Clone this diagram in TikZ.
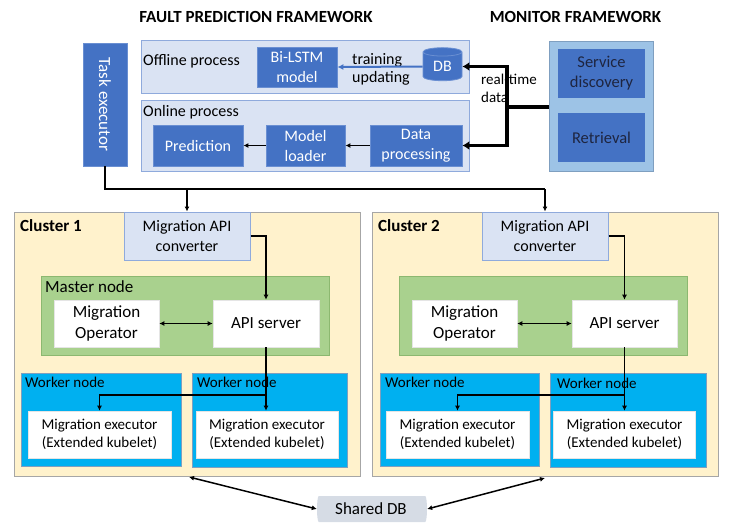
\documentclass[tikz,border=0pt]{standalone}
\usepackage{fontspec}
\setmainfont{Carlito}
\usetikzlibrary{shapes.geometric,arrows.meta}
\definecolor{dblue}{HTML}{4472C4}
\definecolor{dblueb}{HTML}{6A8FD2}
\definecolor{lblue}{HTML}{DAE3F3}
\definecolor{lblueb}{HTML}{8FAADC}
\definecolor{monfill}{HTML}{9DC3E6}
\definecolor{monb}{HTML}{7F9FC0}
\definecolor{clfill}{HTML}{FFF2CC}
\definecolor{clb}{HTML}{A6A6A6}
\definecolor{mfill}{HTML}{A9D18E}
\definecolor{mb}{HTML}{8CB870}
\definecolor{wfill}{HTML}{00B0F0}
\definecolor{wb}{HTML}{7F9FBF}
\definecolor{sdbfill}{HTML}{D6DCE5}
\definecolor{darktext}{HTML}{1E2540}
\begin{document}
\begin{tikzpicture}[x=1pt,y=-1pt,
  sz/.style 2 args={minimum width=#1pt,minimum height=#2pt},
  box/.style={rectangle,inner sep=0pt,align=center},
  f15/.style={font=\fontsize{15}{18}\selectfont},
  f16/.style={font=\fontsize{16}{20}\selectfont},
  f17/.style={font=\fontsize{17}{21}\selectfont},
  bluebox/.style={box,fill=dblue,draw=dblueb,line width=0.8pt,text=white},
  procbox/.style={box,fill=lblue,draw=lblueb,line width=1pt},
  clbox/.style={box,fill=clfill,draw=clb,line width=1pt},
  mbox/.style={box,fill=mfill,draw=mb,line width=1pt},
  wbox/.style={box,fill=wfill,draw=wb,line width=1pt},
  whbox/.style={box,fill=white,draw=white!80!gray,line width=0.6pt},
  lbl/.style={anchor=west,inner sep=0pt},
  conn/.style={line width=1.5pt,-{Latex[length=5pt,width=5pt]}},
  thickconn/.style={line width=3.5pt,-{Latex[length=7pt,width=9pt]}},
]
\useasboundingbox (0,0) rectangle (736,531);

% titles
\node[font=\bfseries\fontsize{17}{21}\selectfont] (t1) at (256,17) {FAULT PREDICTION FRAMEWORK};
\node[font=\bfseries\fontsize{17}{21}\selectfont] (t2) at (575.5,17) {MONITOR FRAMEWORK};

% task executor
\node[bluebox,rotate=-90,sz={123}{44},f17] (task) at (105,104.5) {Task executor};

% offline process
\node[procbox,sz={328}{53}] (offline) at (305,66.5) {};
\node[lbl,f16] (offl) at (143,61) {Offline process};
\node[bluebox,sz={80}{40},f16] (bilstm) at (297,67) {Bi-LSTM\\model};
\node[cylinder,shape border rotate=90,aspect=0.45,fill=dblue,draw=dblueb,line width=0.8pt,
      minimum height=33pt,minimum width=39pt,inner sep=0pt,text=white,f16] (db) at (442.5,66.5) {DB};
\node[lbl,align=left,font=\fontsize{16}{18}\selectfont] (trn) at (352,69) {training\\updating};
\draw[line width=2pt,dblue,-{Latex[length=6pt,width=6pt]}] (db.west) -- (bilstm.east);

% online process
\node[procbox,sz={328}{71}] (online) at (305,135.5) {};
\node[lbl,f16] (onl) at (143,112) {Online process};
\node[bluebox,sz={90}{41},f16] (pred) at (198,145.5) {Prediction};
\node[bluebox,sz={79}{41},f16] (ml) at (305.5,145.5) {Model\\loader};
\node[bluebox,sz={92}{41},f16] (dp) at (416,145.5) {Data\\processing};
\draw[conn] (dp.west) -- (ml.east);
\draw[conn] (ml.west) -- (pred.east);

% monitor framework
\node[box,fill=monfill,draw=monb,line width=1pt,sz={104}{130}] (mon) at (601,106) {};
\node[box,fill=dblue,text=darktext,sz={87}{49},font=\fontsize{16.5}{20}\selectfont] (sd) at (601.5,73.5) {Service\\discovery};
\node[box,fill=dblue,text=darktext,sz={87}{49},font=\fontsize{16.5}{20}\selectfont] (ret) at (601.5,137.5) {Retrieval};

% real-time data
\node[lbl,align=left,font=\fontsize{15}{18}\selectfont] (rtd) at (481,88) {real-time\\data};
\coordinate (jm) at (507,107);
\draw[line width=3.5pt] (mon.west |- jm) -- (jm);
\draw[thickconn] ([yshift=-1.75pt]jm) |- (db.east);
\draw[thickconn] ([yshift=1.75pt]jm) |- (dp.east);

% clusters
\node[clbox,sz={346}{264}] (c1) at (187,344) {};
\node[clbox,sz={346}{264}] (c2) at (545,344) {};
\node[lbl,font=\bfseries\fontsize{17}{21}\selectfont] (c1l) at (20,226) {Cluster 1};
\node[lbl,font=\bfseries\fontsize{17}{21}\selectfont] (c2l) at (378,226) {Cluster 2};

% converters
\node[procbox,sz={126}{48},f16] (conv1) at (187,236) {Migration API\\converter};
\node[procbox,sz={126}{48},f16] (conv2) at (545,236) {Migration API\\converter};

% master nodes
\node[mbox,sz={288}{79}] (m1) at (185,315.5) {};
\node[lbl,f17] (m1l) at (45,287) {Master node};
\node[whbox,sz={105}{47},f17] (op1) at (106.5,323.5) {Migration\\Operator};
\node[whbox,sz={106}{47},f17] (api1) at (266,323.5) {API server};
\node[mbox,sz={288}{79}] (m2) at (543,315.5) {};
\node[whbox,sz={105}{47},f17] (op2) at (464.5,323.5) {Migration\\Operator};
\node[whbox,sz={105}{47},f17] (api2) at (624.5,323.5) {API server};

% worker nodes
\node[wbox,sz={160}{93}] (w11) at (101,419.5) {};
\node[wbox,sz={155}{94}] (w12) at (269.5,420) {};
\node[wbox,sz={159}{93}] (w21) at (459.5,419.5) {};
\node[wbox,sz={156}{94}] (w22) at (628,420) {};
\node[lbl,f15] (w11l) at (25,382) {Worker node};
\node[lbl,f15] (w12l) at (197,382.5) {Worker node};
\node[lbl,f15] (w21l) at (385,382) {Worker node};
\node[lbl,f15] (w22l) at (557,383) {Worker node};
\node[whbox,sz={143}{47},f15] (e11) at (99.5,434.5) {Migration executor\\(Extended kubelet)};
\node[whbox,sz={142}{47},f15] (e12) at (267,434.5) {Migration executor\\(Extended kubelet)};
\node[whbox,sz={143}{47},f15] (e21) at (457.5,434.5) {Migration executor\\(Extended kubelet)};
\node[whbox,sz={142}{47},f15] (e22) at (624.5,434.5) {Migration executor\\(Extended kubelet)};

% shared DB
\node[cylinder,shape border rotate=0,aspect=0.3,fill=sdbfill,inner sep=0pt,
      minimum height=110pt,minimum width=26pt,font=\fontsize{17}{21}\selectfont] (sdb) at (371,509) {Shared DB};

% task executor to converters
\coordinate (jt) at (545,189);
\draw[line width=1.5pt] (task.east) |- (jt);
\draw[conn] (conv1.north |- jt) -- (conv1.north);
\draw[conn] (jt) -- (conv2.north);

% cluster 1 internal
\draw[conn] (conv1.east) -| (api1.north);
\draw[line width=1.5pt,{Latex[length=5pt,width=5pt]}-{Latex[length=5pt,width=5pt]}] (op1.east) -- (api1.west);
\coordinate (b1) at (266,395);
\draw[conn] (api1.south) -- (api1.south |- e12.north);
\draw[conn] (b1) -| (e11.north);

% cluster 2 internal
\draw[conn] (conv2.east) -| (api2.north);
\draw[line width=1.5pt,{Latex[length=5pt,width=5pt]}-{Latex[length=5pt,width=5pt]}] (op2.east) -- (api2.west);
\coordinate (b2) at (624.5,395);
\draw[conn] (api2.south) -- (api2.south |- e22.north);
\draw[conn] (b2) -| (e21.north);

% shared DB arrows
\coordinate (c1b) at (189,477);
\coordinate (c2b) at (545,478);
\draw[line width=1.5pt,{Latex[length=5pt,width=5pt]}-{Latex[length=5pt,width=5pt]}] (c1b) -- (sdb.west);
\draw[line width=1.5pt,{Latex[length=5pt,width=5pt]}-{Latex[length=5pt,width=5pt]}] (c2b) -- (sdb.east);
\end{tikzpicture}
\end{document}
